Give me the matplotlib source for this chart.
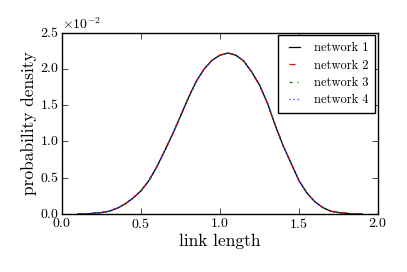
import numpy as np
import matplotlib
matplotlib.use("Agg")
import matplotlib.pyplot as plt
from matplotlib.ticker import ScalarFormatter

plt.style.use("classic")
plt.rcParams["font.family"] = "serif"
plt.rcParams["font.serif"] = ["cmr10"]
plt.rcParams["mathtext.fontset"] = "cm"
plt.rcParams["axes.formatter.use_mathtext"] = True
plt.rcParams["figure.facecolor"] = "white"

# link length grid
link_length = [0.10, 0.15, 0.20, 0.25, 0.30, 0.35, 0.40, 0.45, 0.50, 0.55,
               0.60, 0.65, 0.70, 0.75, 0.80, 0.85, 0.90, 0.95, 1.00, 1.05,
               1.10, 1.15, 1.20, 1.25, 1.30, 1.35, 1.40, 1.45, 1.50, 1.55,
               1.60, 1.65, 1.70, 1.75, 1.80, 1.85, 1.90]

# probability density (networks overlap almost exactly)
network_1 = [0.0000, 0.0000, 0.0001, 0.0002, 0.0004, 0.0008, 0.0014, 0.0022, 0.0032, 0.0046,
             0.0065, 0.0087, 0.0110, 0.0135, 0.0160, 0.0183, 0.0200, 0.0212, 0.0219, 0.0222,
             0.0219, 0.0211, 0.0196, 0.0178, 0.0153, 0.0122, 0.0094, 0.0070, 0.0046, 0.0029,
             0.0017, 0.0009, 0.0004, 0.0002, 0.0001, 0.0000, 0.0000]
network_2 = [0.0000, 0.0000, 0.0001, 0.0002, 0.0004, 0.0008, 0.0014, 0.0022, 0.0032, 0.0046,
             0.0065, 0.0088, 0.0110, 0.0135, 0.0161, 0.0183, 0.0200, 0.0212, 0.0219, 0.0222,
             0.0219, 0.0211, 0.0196, 0.0177, 0.0153, 0.0122, 0.0094, 0.0070, 0.0046, 0.0029,
             0.0017, 0.0009, 0.0004, 0.0002, 0.0001, 0.0000, 0.0000]
network_3 = [0.0000, 0.0000, 0.0001, 0.0002, 0.0004, 0.0008, 0.0014, 0.0022, 0.0032, 0.0046,
             0.0065, 0.0087, 0.0110, 0.0135, 0.0160, 0.0183, 0.0200, 0.0212, 0.0219, 0.0222,
             0.0219, 0.0211, 0.0196, 0.0178, 0.0153, 0.0123, 0.0094, 0.0070, 0.0046, 0.0029,
             0.0017, 0.0009, 0.0004, 0.0002, 0.0001, 0.0000, 0.0000]
network_4 = [0.0000, 0.0000, 0.0001, 0.0002, 0.0004, 0.0008, 0.0014, 0.0022, 0.0032, 0.0046,
             0.0065, 0.0087, 0.0110, 0.0135, 0.0160, 0.0183, 0.0200, 0.0212, 0.0219, 0.0222,
             0.0219, 0.0211, 0.0196, 0.0178, 0.0153, 0.0122, 0.0094, 0.0070, 0.0046, 0.0029,
             0.0017, 0.0009, 0.0004, 0.0002, 0.0001, 0.0000, 0.0000]

labels = ["network 1", "network 2", "network 3", "network 4"]
colors = ["black", "red", "green", "blue"]
# classic dash patterns shrunk to match the small rendering
dashes = ["-", (0, (4.3, 4.3)), (0, (2.2, 3.6, 0.75, 3.6)), (0, (0.75, 2.2))]

fig = plt.figure(figsize=(4.07, 2.72), dpi=100)
ax = fig.add_axes([0.1523, 0.2132, 0.7764, 0.6667])

for y, lab, c, ls in zip([network_1, network_2, network_3, network_4], labels, colors, dashes):
    ax.plot(link_length, y, color=c, linestyle=ls, label=lab, linewidth=0.9)

ax.set_xlim(0, 2)
ax.set_ylim(0, 0.025)
ax.set_xticks([0.0, 0.5, 1.0, 1.5, 2.0])
ax.set_yticks([0.0, 0.005, 0.010, 0.015, 0.020, 0.025])

fmt = ScalarFormatter(useMathText=True)
fmt.set_powerlimits((-2, 2))
ax.yaxis.set_major_formatter(fmt)
ax.yaxis.get_offset_text().set_fontsize(10)

ax.tick_params(labelsize=10, direction="in", length=4, pad=2, top=True, right=True)
ax.set_xlabel("link length", fontsize=12.5, labelpad=2)
ax.set_ylabel("probability density", fontsize=12.5, labelpad=2)

leg = ax.legend(loc="upper right", fontsize=9, fancybox=False, handlelength=1.45,
                handletextpad=0.85, borderpad=0.55, labelspacing=0.42, borderaxespad=0.2)
leg.get_frame().set_edgecolor("black")

fig.savefig("out.png", dpi=100, facecolor="white")
